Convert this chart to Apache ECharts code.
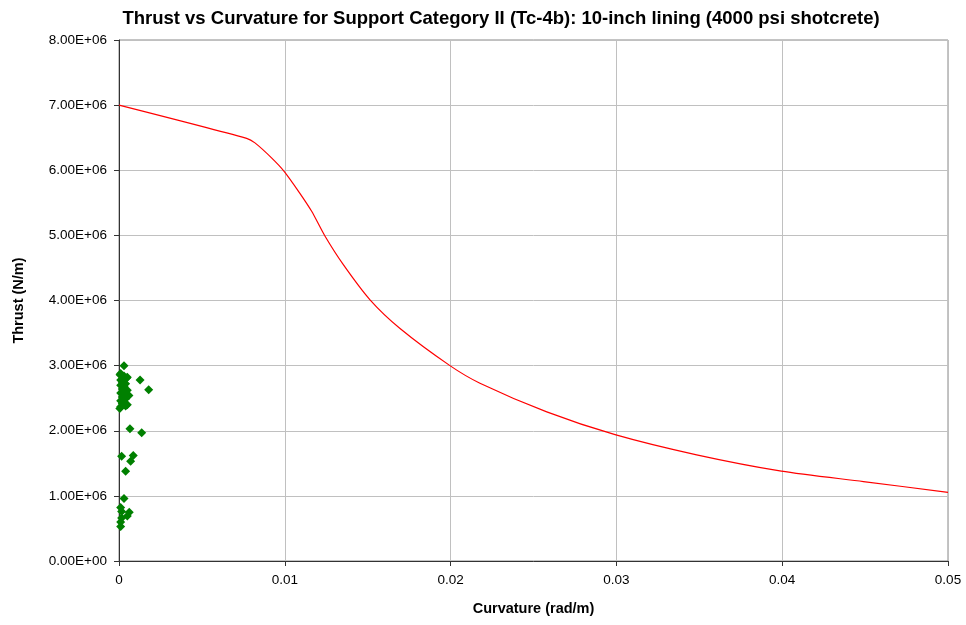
<!DOCTYPE html>
<html><head><meta charset="utf-8">
<script src="https://cdn.jsdelivr.net/npm/echarts@6/dist/echarts.min.js"></script>
<style>html,body{margin:0;padding:0;background:#fff}#c{width:966px;height:625px}</style>
</head><body><div id="c"></div>
<script>
// Capacity curve (curvature rad/m, thrust N/m)
const curveX = [0, 0.0077, 0.0082, 0.0092, 0.00997, 0.0109, 0.01162, 0.01242, 0.01353, 0.01514, 0.01695, 0.01996, 0.02177, 0.0258, 0.02992, 0.03484, 0.03995, 0.0449, 0.05];
const curveY = [7.0e6, 6.49e6, 6.42e6, 6.19e6, 5.98e6, 5.65e6, 5.37e6, 4.99e6, 4.55e6, 4.01e6, 3.57e6, 3.0e6, 2.73e6, 2.29e6, 1.94e6, 1.63e6, 1.38e6, 1.22e6, 1.055e6];
// Demand points
const ptsX = [0.0003, 0.00127, 0.00179, 0.00006, 0.00046, 0.0001, 0.0003, 0.0005, 0.0001, 0.0002, 0.0004, 0.0001, 0.0003, 0.0002, 0.0005, 0.0001, 0.0003, 0.0006, 0.0002, 0.0004, 0.0001, 0.0003, 0.0002, 0.0005, 0.0001, 0.0004, 0.00005,
  0.00066, 0.00137, 0.00016, 0.00086, 0.0007, 0.0004, 0.0003, 0.0001, 0.00016, 0.00062, 0.0005, 0.00016, 0.0001, 0.0001];
const ptsY = [3.0e6, 2.78e6, 2.63e6, 2.86e6, 2.81e6, 2.88e6, 2.84e6, 2.82e6, 2.78e6, 2.75e6, 2.72e6, 2.70e6, 2.68e6, 2.64e6, 2.62e6, 2.58e6, 2.56e6, 2.54e6, 2.52e6, 2.49e6, 2.46e6, 2.44e6, 2.42e6, 2.40e6, 2.37e6, 2.38e6, 2.34e6,
  2.03e6, 1.97e6, 1.61e6, 1.62e6, 1.53e6, 1.38e6, 0.96e6, 0.82e6, 0.76e6, 0.75e6, 0.69e6, 0.66e6, 0.60e6, 0.53e6];
const xTicks = [0, 0.01, 0.02, 0.03, 0.04, 0.05];

function sci(v){
  if (v === 0) return '0.00E+00';
  const e = Math.floor(Math.log10(Math.abs(v)) + 1e-9);
  const m = v / Math.pow(10, e);
  return m.toFixed(2) + 'E' + (e >= 0 ? '+' : '-') + String(Math.abs(e)).padStart(2, '0');
}
const font = '"Liberation Sans", Arial, sans-serif';
const chart = echarts.init(document.getElementById('c'));
chart.setOption({
  animation: false,
  title: {
    text: 'Thrust vs Curvature for Support Category II (Tc-4b): 10-inch lining (4000 psi shotcrete)',
    left: 496, top: 4, textAlign: 'center',
    textStyle: {fontFamily: font, fontSize: 18.5, fontWeight: 'bold', color: '#000'}
  },
  grid: {left: 119, right: 18, top: 40, bottom: 64, show: true, borderColor: '#888', borderWidth: 1,
    containLabel: false, outerBoundsMode: 'none'},
  xAxis: {
    type: 'value', min: 0, max: 0.05, interval: 0.01,
    name: 'Curvature (rad/m)', nameLocation: 'middle', nameGap: 40,
    nameTextStyle: {fontFamily: font, fontSize: 14.5, fontWeight: 'bold', color: '#000'},
    axisLine: {show: true, lineStyle: {color: '#333'}},
    axisTick: {show: true, length: 5, lineStyle: {color: '#333'}},
    axisLabel: {fontFamily: font, fontSize: 13.5, color: '#000', margin: 12,
      formatter: v => { const t = xTicks.find(k => Math.abs(k - v) < 1e-9); return t === 0 ? '0' : String(+v.toFixed(2)); }},
    splitLine: {show: true, lineStyle: {color: '#c0c0c0'}}
  },
  yAxis: {
    type: 'value', min: 0, max: 8e6, interval: 1e6,
    name: 'Thrust (N/m)', nameLocation: 'middle', nameGap: 93, nameRotate: 90,
    nameTextStyle: {fontFamily: font, fontSize: 14.5, fontWeight: 'bold', color: '#000'},
    axisLine: {show: true, lineStyle: {color: '#333'}},
    axisTick: {show: true, length: 5, lineStyle: {color: '#333'}},
    axisLabel: {fontFamily: font, fontSize: 13.5, color: '#000', margin: 12, formatter: sci},
    splitLine: {show: true, lineStyle: {color: '#c0c0c0'}}
  },
  series: [
    {
      type: 'line', data: curveX.map((x, i) => [x, curveY[i]]),
      showSymbol: false, smooth: 0.25, lineStyle: {color: '#ff0000', width: 1.2}, z: 3
    },
    {
      type: 'scatter', data: ptsX.map((x, i) => [x, ptsY[i]]),
      symbol: 'diamond', symbolSize: 9, itemStyle: {color: '#008000', opacity: 1}, z: 4
    }
  ]
});
</script></body></html>
